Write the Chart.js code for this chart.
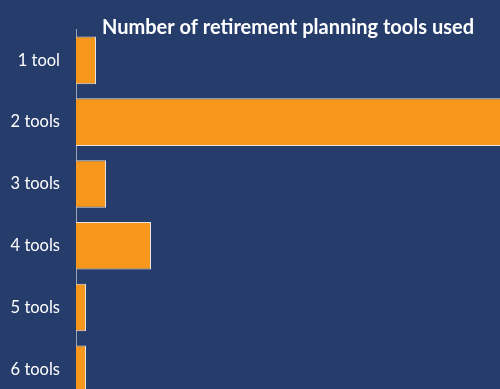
<!DOCTYPE html>
<html>
<head>
<meta charset="utf-8">
<script src="https://cdn.jsdelivr.net/npm/chart.js@4"></script>
<style>
  html, body { margin: 0; padding: 0; background: #263d6b; }
  /* the chart runs past the right and bottom edges and is cut off there */
  #wrap { width: 500px; height: 389px; overflow: hidden; position: relative; }
  #chart { position: absolute; left: 0; top: 0; }
</style>
</head>
<body>
<div id="wrap"><canvas id="chart" width="582" height="426"></canvas></div>
<script>
const categories = ['1 tool', '2 tools', '3 tools', '4 tools', '5 tools', '6 tools'];
const respondents = [2, 46, 3, 7.5, 1, 1];
const chartTitle = 'Number of retirement planning tools used';

const ORANGE = '#f7981d';

new Chart(document.getElementById('chart'), {
  type: 'bar',
  data: {
    labels: categories,
    datasets: [{
      data: respondents,
      backgroundColor: ORANGE,
      borderColor: '#e4e4e4',
      borderWidth: 1,
      categoryPercentage: 1,
      barPercentage: 0.77
    }]
  },
  options: {
    indexAxis: 'y',
    responsive: false,
    animation: false,
    layout: { padding: { left: 0, right: 6, top: 0, bottom: 0 } },
    plugins: {
      legend: { display: false },
      tooltip: { enabled: false },
      title: {
        display: true,
        text: chartTitle,
        color: '#ffffff',
        font: { family: 'Lato', size: 20, weight: 'bold', lineHeight: 1 },
        // negative bottom padding lets the title sit low, right on top of the bars
        padding: { top: 18, bottom: -8.5 }
      }
    },
    scales: {
      x: { display: false, min: 0, max: 50 },
      y: {
        grid: { display: false, drawTicks: false },
        border: { display: true, color: '#9aa3b8', width: 1 },
        ticks: { color: '#ffffff', padding: 16, font: { family: 'Lato', size: 16.5 } },
        afterFit: (scale) => { scale.width = 76; }
      }
    }
  }
});
</script>
</body>
</html>
